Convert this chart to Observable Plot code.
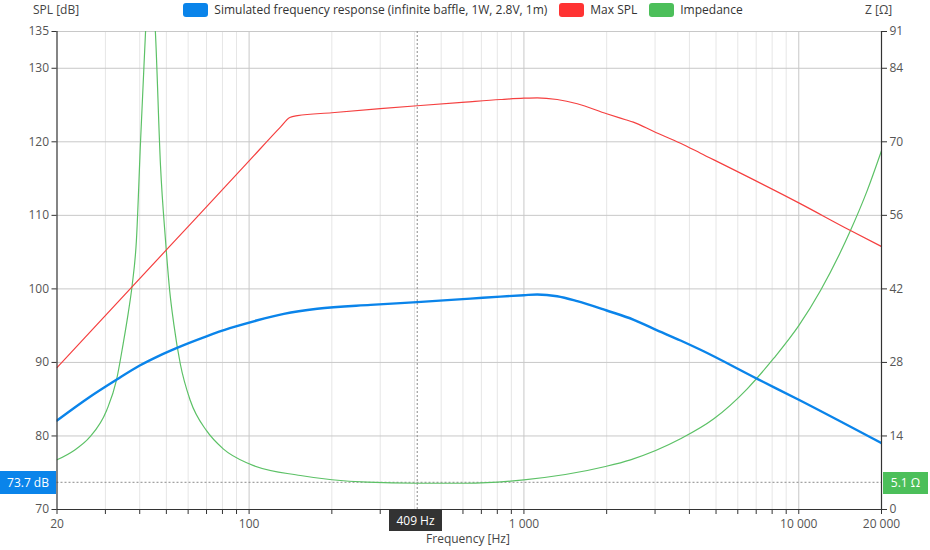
<!DOCTYPE html>
<html><head><meta charset="utf-8">
<script src="https://cdn.jsdelivr.net/npm/d3@7"></script>
<script src="https://cdn.jsdelivr.net/npm/@observablehq/plot@0.6"></script>
<style>
body{margin:0;background:#fff;font-family:"Open Sans",sans-serif;}
#wrap{position:relative;width:930px;height:550px;overflow:hidden;}
#wrap svg{position:absolute;left:0;top:0;}
.t{position:absolute;font-size:12px;color:#333;white-space:nowrap;line-height:14px;}
.box{position:absolute;color:#fff;font-size:12px;text-align:center;white-space:nowrap;}
</style></head><body><div id="wrap"></div>
<script>
// Simulated frequency response (dB)
const frFreq = [20, 26.3, 32.9, 40, 47, 54.4, 70, 85.1, 106.4, 133.8, 177, 276.6, 409, 639, 822, 1000, 1117, 1321, 1563, 2000, 2510, 2969, 3713, 4390, 7061, 10000, 20000];
const frSpl  = [82.1, 85.3, 87.64, 89.58, 90.9, 91.95, 93.55, 94.65, 95.70, 96.6, 97.3, 97.83, 98.2, 98.68, 98.95, 99.14, 99.24, 99.0, 98.33, 97.06, 95.8, 94.57, 92.98, 91.72, 87.77, 84.92, 79.02];
// Max SPL (dB)
const maxFreq = [20, 50, 100, 130, 140.6, 150, 200, 300, 409, 612, 822, 1000, 1117, 1321, 1563, 2000, 2343, 2500, 2969, 3713, 4390, 10000, 15420, 20000];
const maxSpl  = [89.3, 105.3, 117.4, 122.0, 123.3, 123.55, 123.95, 124.5, 124.9, 125.4, 125.75, 125.93, 125.98, 125.75, 125.17, 123.81, 123.0, 122.67, 121.4, 119.8, 118.45, 111.7, 107.94, 105.76];
// Impedance (ohm)
const zFreq = [20, 23, 26.3, 30.3, 32.9, 34.8, 36.3, 37.5, 38.9, 40.26, 42, 43.2, 45.6, 47.6, 49.65, 51.4, 53.2, 56.2, 61.1, 70, 80.5, 100, 153.8, 269, 409, 612, 1000, 1980, 2442, 3713, 4908, 6494, 8113, 10000, 12000, 15420, 17740, 20000];
const zOhm  = [9.46, 11.2, 13.76, 18.85, 24.56, 31.5, 37.3, 42.5, 51.2, 69.9, 91, 105, 91, 65.5, 51.2, 41.7, 35.35, 27.7, 20.75, 15.0, 11.55, 8.7, 6.47, 5.2, 5.0, 5.0, 5.65, 8.19, 9.46, 13.46, 17.27, 22.98, 28.8, 35.0, 41.7, 53.1, 60.7, 68.3];

const splTicks = [70, 80, 90, 100, 110, 120, 130, 135];
const zTicks = [0, 14, 28, 42, 56, 70, 84, 91];
const xMajor = [100, 1000, 10000];
const xMinor = [30,40,50,60,70,80,90,200,300,400,500,600,700,800,900,2000,3000,4000,5000,6000,7000,8000,9000];
const xLabeled = [20, 100, 1000, 10000, 20000];
const cursorFreq = 409, cursorSpl = 73.7, cursorZ = 5.1;

const zScale = 91 / 65; // ohm per dB on the shared vertical span
const fr = frFreq.map((f, i) => ({f, v: frSpl[i]}));
const mx = maxFreq.map((f, i) => ({f, v: maxSpl[i]}));
const zz = zFreq.map((f, i) => ({f, v: 70 + zOhm[i] / zScale}));

const fmt = d => d3.format(",")(d).replace(/,/g, " ");
const allX = [20, ...xMinor, ...xMajor, 20000].sort((a,b)=>a-b);

const chart = Plot.plot({
  width: 930, height: 550,
  marginLeft: 56.5, marginRight: 49, marginTop: 31, marginBottom: 41,
  style: {fontFamily: "Open Sans, sans-serif", fontSize: "12px", color: "#555", background: "transparent", overflow: "visible"},
  x: {type: "log", domain: [20, 20000]},
  y: {domain: [70, 135]},
  marks: [
    Plot.ruleX(xMinor, {stroke: "#e6e6e6", strokeWidth: 1}),
    Plot.ruleX(xMajor, {stroke: "#c8c8c8", strokeWidth: 1}),
    Plot.ruleY(splTicks.slice(1), {stroke: "#c8c8c8", strokeWidth: 1}),
    Plot.ruleX([cursorFreq], {stroke: "#8a8a8a", strokeDasharray: "2,2"}),
    Plot.ruleY([cursorSpl], {stroke: "#8a8a8a", strokeDasharray: "2,2"}),
    Plot.line(zz, {x: "f", y: "v", stroke: "#5cc166", strokeWidth: 1.2, curve: "monotone-x", clip: true}),
    Plot.line(mx, {x: "f", y: "v", stroke: "#f54040", strokeWidth: 1.2, curve: "monotone-x", clip: true}),
    Plot.line(fr, {x: "f", y: "v", stroke: "#0a84ea", strokeWidth: 2.4, curve: "monotone-x", clip: true}),
    Plot.axisX({ticks: allX, tickFormat: d => xLabeled.includes(d) ? fmt(d) : "", tickSize: 5, tickPadding: 5, label: null, stroke: "#333", fill: "#555"}),
    Plot.axisY({anchor: "left", ticks: splTicks, tickSize: 5, tickPadding: 3, label: null, stroke: "#333", fill: "#555"}),
    Plot.axisY({anchor: "right", ticks: splTicks, tickFormat: d => zTicks[splTicks.indexOf(d)], tickSize: 5, tickPadding: 3, label: null, stroke: "#333", fill: "#555"}),
    Plot.ruleX([20, 20000], {stroke: "#333", strokeWidth: 1.2}),
    Plot.ruleY([70], {stroke: "#333", strokeWidth: 1.2})
  ]
});
const wrap = document.getElementById("wrap");
wrap.appendChild(chart);

const legend = [
  {name: "Simulated frequency response (infinite baffle, 1W, 2.8V, 1m)", color: "#0a84ea"},
  {name: "Max SPL", color: "#ff3333"},
  {name: "Impedance", color: "#4cbf5a"}
];
function add(html) { wrap.insertAdjacentHTML("beforeend", html); }
add(`<div class="t" style="left:33px;top:3px;color:#444">SPL [dB]</div>`);
add(`<div class="t" style="left:865px;top:3px;color:#444">Z [Ω]</div>`);
const lg = document.createElement("div");
lg.style.cssText = "position:absolute;top:2px;left:-2px;width:930px;display:flex;justify-content:center;gap:12px;font-size:12px;color:#333;line-height:16px;";
legend.forEach(l => {
  const it = document.createElement("div");
  it.style.cssText = "display:flex;align-items:center;gap:6px;";
  it.innerHTML = `<span style="display:inline-block;width:25px;height:14px;border-radius:3px;background:${l.color}"></span><span>${l.name}</span>`;
  lg.appendChild(it);
});
wrap.appendChild(lg);
add(`<div class="t" style="left:0;width:936px;text-align:center;top:532px;color:#444">Frequency [Hz]</div>`);
add(`<div class="box" style="left:0;top:471px;width:56px;height:23px;line-height:23px;background:#0a84ea">${cursorSpl} dB</div>`);
add(`<div class="box" style="left:883px;top:472px;width:45px;height:22px;line-height:22px;background:#4cbf5a">${cursorZ} Ω</div>`);
add(`<div class="box" style="left:389px;top:510px;width:53px;height:21px;line-height:21px;background:#333">${cursorFreq} Hz</div>`);
</script></body></html>
